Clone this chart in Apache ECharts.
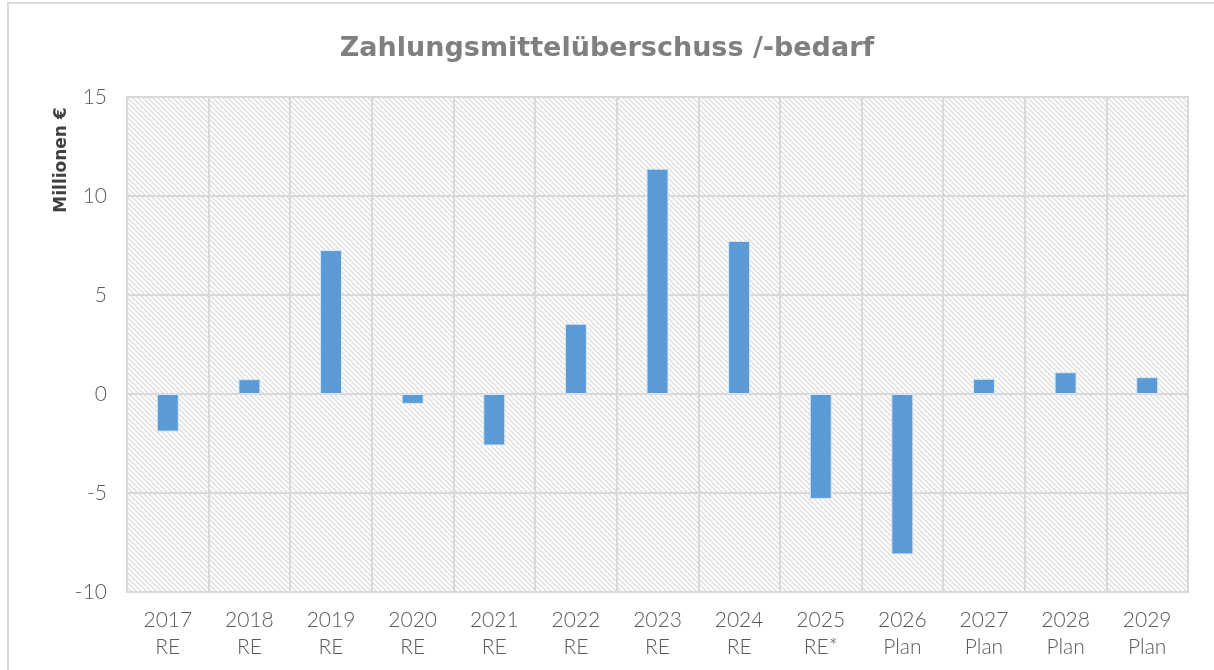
<!DOCTYPE html>
<html>
<head>
<meta charset="utf-8">
<script src="https://cdn.jsdelivr.net/npm/echarts@6/dist/echarts.min.js"></script>
<style>
  html, body { margin: 0; padding: 0; background: #fff; }
  #chart { width: 1214px; height: 670px; }
</style>
</head>
<body>
<div id="chart"></div>
<script>
// Daten
const jahre = ['2017', '2018', '2019', '2020', '2021', '2022', '2023', '2024', '2025', '2026', '2027', '2028', '2029'];
const art = ['RE', 'RE', 'RE', 'RE', 'RE', 'RE', 'RE', 'RE', 'RE*', 'Plan', 'Plan', 'Plan', 'Plan'];
const werte = [-1.9, 0.75, 7.27, -0.5, -2.6, 3.55, 11.38, 7.73, -5.3, -8.1, 0.77, 1.1, 0.85];

// Schraffur für den Hintergrund der Zeichenfläche
function schraffur() {
  const c = document.createElement('canvas');
  c.width = 5; c.height = 5;
  const ctx = c.getContext('2d');
  ctx.fillStyle = '#ffffff';
  ctx.fillRect(0, 0, 5, 5);
  ctx.strokeStyle = '#dedede';
  ctx.lineWidth = 1.4;
  ctx.beginPath();
  ctx.moveTo(-1, -1); ctx.lineTo(6, 6);
  ctx.moveTo(-4, 1); ctx.lineTo(1, 6);
  ctx.moveTo(1, -4); ctx.lineTo(6, 1);
  ctx.stroke();
  return c;
}

const myChart = echarts.init(document.getElementById('chart'));
myChart.setOption({
  animation: false,
  title: {
    text: 'Zahlungsmittelüberschuss /-bedarf',
    left: 'center',
    top: 30,
    textStyle: { fontFamily: 'DejaVu Sans', fontSize: 27, fontWeight: 'bold', color: '#7f7f7f' }
  },
  graphic: [
    {
      type: 'rect',
      shape: { x: 8, y: 3, width: 1230, height: 690 },
      style: { fill: 'none', stroke: '#d9d9d9', lineWidth: 2 },
      silent: true
    },
    {
      type: 'text',
      x: 62, y: 160,
      rotation: Math.PI / 2,
      style: {
        text: 'Millionen €',
        fontFamily: 'DejaVu Sans', fontSize: 17, fontWeight: 'bold',
        fill: '#404040', align: 'center', verticalAlign: 'middle'
      }
    }
  ],
  grid: {
    left: 127, top: 97, right: 26, bottom: 78,
    show: true,
    backgroundColor: { image: schraffur(), repeat: 'repeat' },
    borderColor: '#d9d9d9', borderWidth: 2
  },
  xAxis: {
    type: 'category',
    data: jahre.map((j, i) => j + '\n' + art[i]),
    axisLine: { show: false },
    axisTick: { show: false },
    splitLine: { show: true, lineStyle: { color: '#d9d9d9', width: 2 } },
    axisLabel: {
      color: '#595959', fontFamily: 'Lato', fontWeight: 300, fontSize: 21, lineHeight: 27, margin: 15,
      interval: 0
    }
  },
  yAxis: {
    type: 'value',
    min: -10, max: 15, interval: 5,
    axisLine: { show: false },
    axisTick: { show: false },
    splitLine: { lineStyle: { color: '#d9d9d9', width: 2 } },
    axisLabel: { color: '#595959', fontFamily: 'Lato', fontWeight: 300, fontSize: 21, margin: 20 }
  },
  series: [{
    type: 'bar',
    data: werte,
    barWidth: 22,
    itemStyle: { color: '#5b9bd5', borderColor: '#dbe8f5', borderWidth: 1 }
  }]
});
</script>
</body>
</html>
